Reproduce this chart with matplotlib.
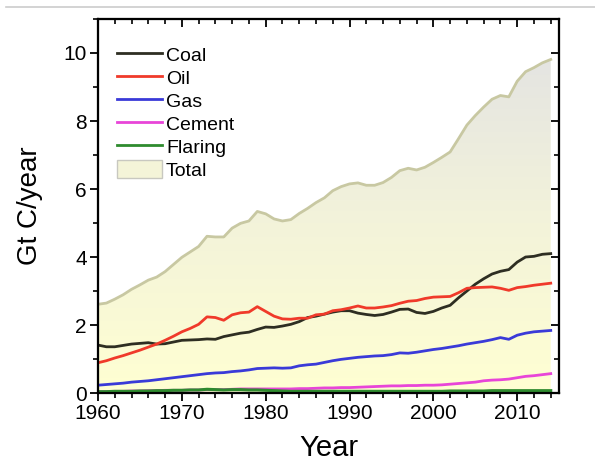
import numpy as np
import matplotlib
matplotlib.use("Agg")
import matplotlib.pyplot as plt
from matplotlib.lines import Line2D
from matplotlib.patches import Patch
from matplotlib.colors import LinearSegmentedColormap
from matplotlib.ticker import MultipleLocator

plt.rcParams['font.family'] = ['Liberation Sans', 'DejaVu Sans']

years = np.arange(1960, 2015)

coal = [1.41, 1.36, 1.36, 1.40, 1.44, 1.46, 1.48, 1.44, 1.45, 1.50,
        1.55, 1.56, 1.57, 1.59, 1.58, 1.66, 1.71, 1.76, 1.79, 1.87,
        1.94, 1.93, 1.97, 2.02, 2.10, 2.22, 2.26, 2.32, 2.38, 2.42,
        2.42, 2.35, 2.31, 2.28, 2.31, 2.38, 2.46, 2.47, 2.37, 2.34,
        2.40, 2.50, 2.58, 2.80, 3.00, 3.20, 3.36, 3.50, 3.58, 3.63,
        3.85, 4.00, 4.02, 4.08, 4.10]

oil = [0.89, 0.95, 1.03, 1.10, 1.18, 1.26, 1.35, 1.44, 1.55, 1.67,
       1.80, 1.90, 2.02, 2.24, 2.22, 2.14, 2.30, 2.36, 2.38, 2.54,
       2.40, 2.26, 2.18, 2.17, 2.20, 2.20, 2.30, 2.32, 2.42, 2.45,
       2.50, 2.56, 2.50, 2.50, 2.53, 2.57, 2.64, 2.70, 2.72, 2.78,
       2.82, 2.83, 2.84, 2.95, 3.08, 3.10, 3.11, 3.12, 3.08, 3.02,
       3.10, 3.13, 3.17, 3.20, 3.23]

gas = [0.23, 0.25, 0.27, 0.29, 0.32, 0.34, 0.36, 0.39, 0.42, 0.45,
       0.48, 0.51, 0.54, 0.57, 0.59, 0.60, 0.63, 0.65, 0.68, 0.72,
       0.73, 0.74, 0.73, 0.74, 0.80, 0.83, 0.85, 0.90, 0.95, 0.99,
       1.02, 1.05, 1.07, 1.09, 1.10, 1.13, 1.18, 1.17, 1.20, 1.24,
       1.28, 1.31, 1.35, 1.39, 1.44, 1.48, 1.52, 1.57, 1.63, 1.58,
       1.70, 1.76, 1.80, 1.82, 1.84]

cement = [0.04, 0.045, 0.05, 0.05, 0.06, 0.06, 0.07, 0.07, 0.08, 0.08,
          0.08, 0.09, 0.09, 0.10, 0.10, 0.10, 0.11, 0.12, 0.12, 0.12,
          0.12, 0.12, 0.12, 0.12, 0.13, 0.13, 0.14, 0.15, 0.15, 0.16,
          0.16, 0.17, 0.18, 0.19, 0.20, 0.21, 0.21, 0.22, 0.22, 0.23,
          0.23, 0.24, 0.26, 0.28, 0.30, 0.32, 0.36, 0.38, 0.39, 0.41,
          0.45, 0.49, 0.51, 0.54, 0.57]

flaring = [0.04, 0.04, 0.05, 0.05, 0.05, 0.06, 0.06, 0.07, 0.07, 0.08,
           0.08, 0.09, 0.09, 0.11, 0.10, 0.09, 0.10, 0.10, 0.09, 0.09,
           0.08, 0.07, 0.06, 0.05, 0.05, 0.05, 0.05, 0.05, 0.05, 0.05,
           0.05, 0.05, 0.05, 0.05, 0.05, 0.05, 0.05, 0.05, 0.05, 0.05,
           0.05, 0.05, 0.06, 0.06, 0.06, 0.06, 0.06, 0.07, 0.07, 0.07,
           0.07, 0.07, 0.07, 0.07, 0.07]

total = np.array(coal) + np.array(oil) + np.array(gas) + np.array(cement) + np.array(flaring)

fig = plt.figure(figsize=(5.95, 4.69), dpi=100)
ax = fig.add_axes([0.1647, 0.162, 0.775, 0.7975])

# gradient filled area under total
grad = LinearSegmentedColormap.from_list('tot', ['#FFFFD2', '#F3F3DA', '#E4E4E2'])
fill = ax.fill_between(years, 0, total, color='none', lw=0)
img = ax.imshow(np.linspace(0, 1, 256).reshape(-1, 1), cmap=grad, aspect='auto',
                origin='lower', extent=[1960, 2015, 0, 10], zorder=1)
clip = fill.get_paths()[0]
img.set_clip_path(clip, transform=ax.transData)
ax.plot(years, total, color='#C8C8A2', lw=2, zorder=2)

ax.plot(years, coal, color='#2E2E22', lw=2, zorder=3)
ax.plot(years, oil, color='#F03A2A', lw=2, zorder=3)
ax.plot(years, gas, color='#3A3AD8', lw=2, zorder=3)
ax.plot(years, cement, color='#E845D8', lw=2, zorder=3)
ax.plot(years, flaring, color='#2E8B2E', lw=2.2, zorder=4)

ax.set_xlim(1960, 2015)
ax.set_ylim(0, 11)
ax.xaxis.set_major_locator(MultipleLocator(10))
ax.xaxis.set_minor_locator(MultipleLocator(2))
ax.yaxis.set_major_locator(MultipleLocator(2))
ax.yaxis.set_minor_locator(MultipleLocator(1))
ax.tick_params(which='major', direction='out', length=6, width=1.3, labelsize=15, pad=2)
ax.tick_params(which='minor', direction='out', length=3.5, width=1.2)
for s in ax.spines.values():
    s.set_linewidth(1.5)

# mirrored ticks pointing inward on top and right
axt = ax.twiny()
axt.set_xlim(ax.get_xlim())
axt.xaxis.set_major_locator(MultipleLocator(10))
axt.xaxis.set_minor_locator(MultipleLocator(2))
axt.tick_params(axis='x', which='major', direction='in', length=6, width=1.3, labeltop=False)
axt.tick_params(axis='x', which='minor', direction='in', length=3.5, width=1.2)
axr = ax.twinx()
axr.set_ylim(ax.get_ylim())
axr.yaxis.set_major_locator(MultipleLocator(2))
axr.yaxis.set_minor_locator(MultipleLocator(1))
axr.tick_params(axis='y', which='major', direction='in', length=6, width=1.3, labelright=False)
axr.tick_params(axis='y', which='minor', direction='in', length=3.5, width=1.2)
for a in (axt, axr):
    for s in a.spines.values():
        s.set_linewidth(1.5)

ax.set_xlabel('Year', fontsize=21, labelpad=8)
ax.set_ylabel('Gt C/year', fontsize=20, labelpad=15)

handles = [Line2D([], [], color='#2E2E22', lw=2),
           Line2D([], [], color='#F03A2A', lw=2),
           Line2D([], [], color='#3A3AD8', lw=2),
           Line2D([], [], color='#E845D8', lw=2),
           Line2D([], [], color='#2E8B2E', lw=2),
           Patch(facecolor='#F4F4D8', edgecolor='#C8C8C0', lw=1)]
labels = ['Coal', 'Oil', 'Gas', 'Cement', 'Flaring', 'Total']
ax.legend(handles, labels, loc='upper left', bbox_to_anchor=(0.025, 0.95), frameon=False,
          fontsize=14, handlelength=2.3, handleheight=1.1, handletextpad=0.2,
          labelspacing=0.15, borderaxespad=0)

fig.add_artist(Line2D([0.01, 1.0], [0.985, 0.985], color='#CCCCCC', lw=1.2))

fig.savefig('out.png', dpi=100)
